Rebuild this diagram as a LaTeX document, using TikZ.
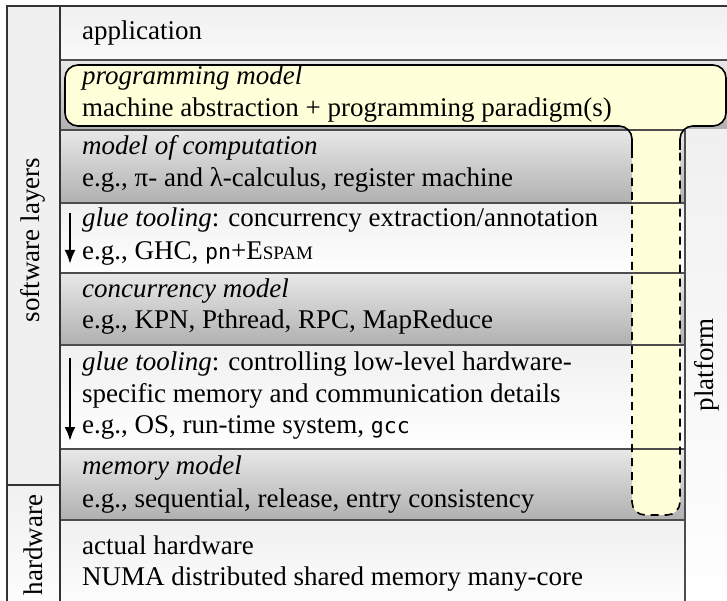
\documentclass[tikz,border=0pt]{standalone}
\usepackage{fontspec}
\setmainfont{Liberation Serif}
\newfontfamily\codefont{DejaVu Sans Mono}[Scale=0.8]
\usetikzlibrary{arrows.meta}

\definecolor{ruleline}{HTML}{4D4D4D}
\definecolor{frameline}{HTML}{333333}
\definecolor{pmyellow}{HTML}{FFFFD9}
\definecolor{shadetop}{HTML}{E8E8E8}
\definecolor{shadebot}{HTML}{B0B0B0}
\definecolor{palegray}{HTML}{F0F0F0}

\tikzset{
  darkband/.style={top color=shadetop, bottom color=shadebot},
  lightband/.style={top color=palegray, bottom color=white},
  txt/.style={anchor=base west, inner sep=0pt, font=\fontsize{27}{31}\selectfont},
  sidelabel/.style={rotate=90, inner sep=0pt, font=\fontsize{27}{31}\selectfont},
  boundary/.style={draw=ruleline, line width=1.3pt},
  frame/.style={draw=frameline, line width=1.3pt},
  flowarrow/.style={-{Latex[length=14pt,width=11pt]}, line width=2.4pt},
  pmoutline/.style={line width=1.6pt, rounded corners=13pt},
}

\begin{document}
\begin{tikzpicture}[x=1pt,y=-1pt]
\clip (0,0) rectangle (727,601);

% side columns
\path[fill=palegray] (7,6) rectangle (60,485);
\path[lightband] (7,485) rectangle (60,620);

% horizontal layers
\path[top color=palegray, bottom color=white!98!black] (60,6) rectangle (740,60);
\path[darkband] (60,60) rectangle (740,130);
\path[darkband] (60,130) rectangle (685,203);
\path[lightband] (60,203) rectangle (685,273);
\path[darkband] (60,273) rectangle (685,345);
\path[lightband] (60,345) rectangle (685,449);
\path[darkband] (60,449) rectangle (685,520);
\path[lightband] (60,520) rectangle (685,620);
\path[top color=palegray, bottom color=white] (685,130) rectangle (740,620);

% programming model: T-shaped highlight
\fill[pmyellow, rounded corners=13pt]
  (632,515) -- (632,126) -- (65,126) -- (65,65) -- (726,65) -- (726,126)
  -- (680,126) -- (680,515) -- cycle;

% layer boundaries
\draw[boundary] (60,60) -- (740,60);
\draw[boundary] (60,130) -- (685,130);
\draw[boundary] (60,203) -- (685,203);
\draw[boundary] (60,273) -- (685,273);
\draw[boundary] (60,345) -- (685,345);
\draw[boundary] (60,449) -- (685,449);
\draw[boundary] (60,520) -- (685,520);
\draw[boundary] (685,130) -- (685,620);

% outer frame
\draw[frame] (7,620) -- (7,6) -- (740,6);
\draw[frame] (60,6) -- (60,620);
\draw[frame] (7,485) -- (60,485);

% highlight outline: solid bar, dashed stem
\draw[pmoutline] (632,150) -- (632,126) -- (65,126) -- (65,65) -- (726,65)
  -- (726,126) -- (680,126) -- (680,150);
\draw[pmoutline, dash pattern=on 8pt off 6pt]
  (632,150) -- (632,515) -- (680,515) -- (680,150);

% side labels
\node[sidelabel] (sw) at (33,240) {software layers};
\node[sidelabel] (hwl) at (33,545) {hardware};
\node[sidelabel] (pf) at (707,365) {platform};

% layer texts
\node[txt] (app) at (82,40) {application};
\node[txt] (pm1) at (82,85) {\textit{programming model}};
\node[txt] (pm2) at (82,117) {machine abstraction + programming paradigm(s)};
\node[txt] (moc1) at (82,155) {\textit{model of computation}};
\node[txt] (moc2) at (82,187) {e.g., π- and λ-calculus, register machine};
\node[txt] (g1a) at (82,227) {\textit{glue tooling}: concurrency extraction/annotation};
\node[txt] (g1b) at (82,260) {e.g., GHC, {\codefont pn}+E{\fontsize{19}{19}\selectfont SPAM}};
\node[txt] (cm1) at (82,298) {\textit{concurrency model}};
\node[txt] (cm2) at (82,328) {e.g., KPN, Pthread, RPC, MapReduce};
\node[txt] (g2a) at (82,370) {\textit{glue tooling}: controlling low-level hardware-};
\node[txt] (g2b) at (82,402) {specific memory and communication details};
\node[txt] (g2c) at (82,433) {e.g., OS, run-time system, {\codefont gcc}};
\node[txt] (mm1) at (82,474) {\textit{memory model}};
\node[txt] (mm2) at (82,507) {e.g., sequential, release, entry consistency};
\node[txt] (hw1) at (82,554) {actual hardware};
\node[txt] (hw2) at (82,585) {NUMA distributed shared memory many-core};

% tooling direction arrows
\coordinate (g1top) at (70,213);
\coordinate (g1bot) at (70,264);
\coordinate (g2top) at (70,358);
\coordinate (g2bot) at (70,441);
\draw[flowarrow] (g1top) -- (g1bot);
\draw[flowarrow] (g2top) -- (g2bot);
\end{tikzpicture}
\end{document}
